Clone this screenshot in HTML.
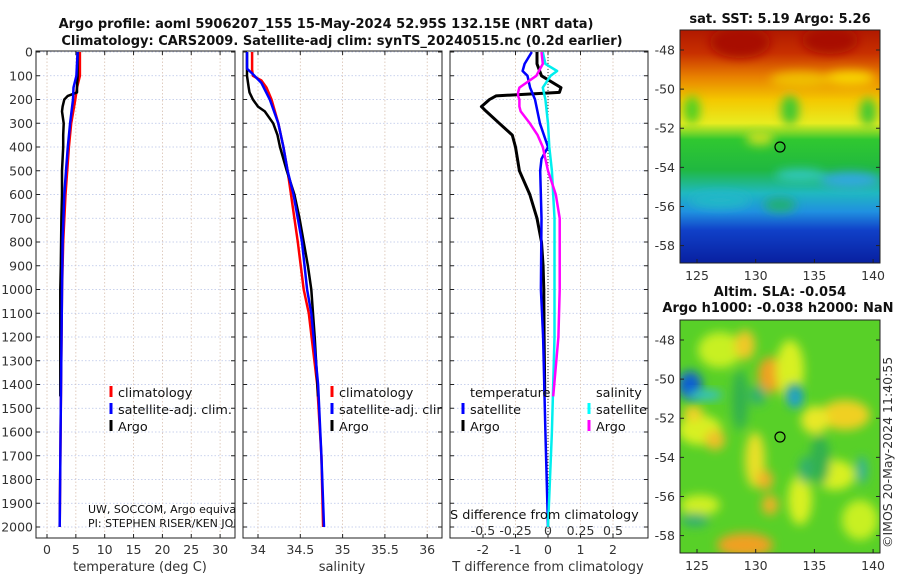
<!DOCTYPE html>
<html><head><meta charset="utf-8">
<style>
body{margin:0;background:#fff;}
svg{display:block;font-family:"DejaVu Sans","Liberation Sans",sans-serif;}
.tk{font-size:12.5px;fill:#333;}
.tt{font-size:13px;font-weight:bold;fill:#111;}
.lg{font-size:12.8px;fill:#111;}
</style></head><body>
<svg id="fig" width="900" height="580" viewBox="0 0 900 580">
<defs>
<clipPath id="c1"><rect x="36" y="51" width="199" height="487"/></clipPath>
<clipPath id="c2"><rect x="243" y="51" width="199" height="487"/></clipPath>
<clipPath id="c3"><rect x="450" y="51" width="198" height="487"/></clipPath>
<clipPath id="cm1"><rect x="680" y="30" width="200" height="233"/></clipPath>
<clipPath id="cm2"><rect x="680" y="320" width="200" height="233"/></clipPath>
<linearGradient id="sstg" x1="0" y1="0" x2="0" y2="1">
<stop offset="0" stop-color="#b01800"/><stop offset="0.1" stop-color="#c83000"/>
<stop offset="0.2" stop-color="#e88000"/><stop offset="0.3" stop-color="#f4c800"/>
<stop offset="0.4" stop-color="#e8ec20"/><stop offset="0.47" stop-color="#30c830"/>
<stop offset="0.6" stop-color="#20b840"/><stop offset="0.7" stop-color="#20b8c0"/>
<stop offset="0.78" stop-color="#2090e0"/><stop offset="0.86" stop-color="#1040c8"/>
<stop offset="1" stop-color="#0820a0"/></linearGradient>
<filter id="bl" x="-50%" y="-50%" width="200%" height="200%"><feGaussianBlur stdDeviation="5"/></filter>
</defs>
<text class="tt" x="326" y="28" text-anchor="middle">Argo profile: aoml 5906207_155 15-May-2024 52.95S 132.15E (NRT data)</text>
<text class="tt" x="342" y="45" text-anchor="middle">Climatology: CARS2009. Satellite-adj clim: synTS_20240515.nc (0.2d earlier)</text>
<g id="axes"></g>
<g id="lines"></g>

<g>
<text class="tt" x="780" y="23" text-anchor="middle">sat. SST: 5.19 Argo: 5.26</text>
<g clip-path="url(#cm1)">
<rect x="680" y="30" width="200" height="233" fill="url(#sstg)"/>
<g filter="url(#bl)">
<ellipse cx="740" cy="42" rx="30" ry="16" fill="#a81000"/><ellipse cx="830" cy="40" rx="28" ry="14" fill="#a81000"/>
<ellipse cx="800" cy="80" rx="30" ry="8" fill="#f0c000"/><ellipse cx="850" cy="78" rx="25" ry="7" fill="#f8d800"/>
<ellipse cx="692" cy="110" rx="8" ry="14" fill="#50d020"/><ellipse cx="790" cy="110" rx="9" ry="15" fill="#40c830"/>
<ellipse cx="868" cy="112" rx="8" ry="14" fill="#40c830"/><ellipse cx="760" cy="138" rx="14" ry="7" fill="#c8e020"/>
<ellipse cx="850" cy="180" rx="30" ry="8" fill="#30a8e0"/><ellipse cx="800" cy="175" rx="25" ry="6" fill="#30c8c0"/>
<ellipse cx="780" cy="205" rx="16" ry="7" fill="#20b070"/><ellipse cx="720" cy="200" rx="30" ry="8" fill="#20b8c8"/>
</g></g>
<rect x="680" y="30" width="200" height="233" fill="none" stroke="#222" stroke-width="1"/>
<circle cx="780" cy="147" r="5" fill="none" stroke="#000" stroke-width="1.2"/>
<g id="map1ticks"></g>
</g>

<g>
<text class="tt" x="780" y="296" text-anchor="middle">Altim. SLA: -0.054</text>
<text class="tt" x="778" y="312" text-anchor="middle">Argo h1000: -0.038 h2000: NaN</text>
<g clip-path="url(#cm2)">
<rect x="680" y="320" width="200" height="233" fill="#58d028"/>
<g filter="url(#bl)">
<ellipse cx="720" cy="350" rx="22" ry="18" fill="#c8f020"/><ellipse cx="745" cy="345" rx="10" ry="15" fill="#f0c828"/>
<ellipse cx="770" cy="375" rx="12" ry="18" fill="#f0a020"/><ellipse cx="790" cy="370" rx="14" ry="30" fill="#d8f020"/>
<ellipse cx="845" cy="415" rx="25" ry="15" fill="#f0d020"/><ellipse cx="815" cy="420" rx="14" ry="14" fill="#e8e828"/>
<ellipse cx="700" cy="430" rx="22" ry="15" fill="#d8f020"/><ellipse cx="715" cy="440" rx="10" ry="10" fill="#f0c028"/>
<ellipse cx="755" cy="460" rx="10" ry="28" fill="#e8e028"/><ellipse cx="765" cy="480" rx="8" ry="10" fill="#f0b028"/>
<ellipse cx="770" cy="505" rx="8" ry="10" fill="#f0b028"/><ellipse cx="745" cy="545" rx="28" ry="12" fill="#f0a020"/>
<ellipse cx="835" cy="475" rx="20" ry="15" fill="#d8f020"/><ellipse cx="700" cy="505" rx="20" ry="10" fill="#d0f020"/>
<ellipse cx="800" cy="500" rx="12" ry="25" fill="#d8f020"/><ellipse cx="860" cy="520" rx="18" ry="20" fill="#c8f020"/>
<ellipse cx="693" cy="413" rx="10" ry="8" fill="#f0d028"/>
<ellipse cx="740" cy="400" rx="8" ry="30" fill="#30b050"/><ellipse cx="820" cy="460" rx="10" ry="25" fill="#30b050"/>
<ellipse cx="794" cy="393" rx="8" ry="10" fill="#20a880"/><ellipse cx="758" cy="395" rx="8" ry="10" fill="#30b070"/>
<ellipse cx="805" cy="470" rx="6" ry="14" fill="#30b070"/><ellipse cx="862" cy="470" rx="5" ry="14" fill="#30b0a0"/>
<ellipse cx="695" cy="520" rx="14" ry="7" fill="#30b070"/>
</g>
<ellipse cx="795" cy="398" rx="7" ry="10" fill="#20a0d0" filter="url(#bl)"/>
<ellipse cx="690" cy="385" rx="12" ry="14" fill="#1060d0" filter="url(#bl)"/>
<ellipse cx="705" cy="395" rx="18" ry="5" fill="#30c0d0" filter="url(#bl)"/>
</g>
<rect x="680" y="320" width="200" height="233" fill="none" stroke="#222" stroke-width="1"/>
<circle cx="780" cy="437" r="5" fill="none" stroke="#000" stroke-width="1.2"/>
<g id="map2ticks"></g>
<text class="tk" transform="translate(892,548) rotate(-90)">©IMOS 20-May-2024 11:40:55</text>
</g>

<g>
<line x1="111" y1="386" x2="111" y2="397" stroke="#f00" stroke-width="3"/><text class="lg" x="118" y="397">climatology</text>
<line x1="111" y1="403" x2="111" y2="414" stroke="#00f" stroke-width="3"/><text class="lg" x="118" y="414">satellite-adj. clim.</text>
<line x1="111" y1="420" x2="111" y2="431" stroke="#000" stroke-width="3"/><text class="lg" x="118" y="431">Argo</text>
</g>
<g clip-path="url(#c2)">
<line x1="332" y1="386" x2="332" y2="397" stroke="#f00" stroke-width="3"/><text class="lg" x="339" y="397">climatology</text>
<line x1="332" y1="403" x2="332" y2="414" stroke="#00f" stroke-width="3"/><text class="lg" x="339" y="414">satellite-adj. clim.</text>
<line x1="332" y1="420" x2="332" y2="431" stroke="#000" stroke-width="3"/><text class="lg" x="339" y="431">Argo</text>
</g>
<g>
<text class="lg" x="470" y="397">temperature</text><text class="lg" x="596" y="397">salinity</text>
<line x1="463" y1="403" x2="463" y2="414" stroke="#00f" stroke-width="3"/><text class="lg" x="470" y="414">satellite</text>
<line x1="463" y1="420" x2="463" y2="431" stroke="#000" stroke-width="3"/><text class="lg" x="470" y="431">Argo</text>
<line x1="589" y1="403" x2="589" y2="414" stroke="#0ff" stroke-width="3"/><text class="lg" x="596" y="414" clip-path="url(#c3)">satellite</text>
<line x1="589" y1="420" x2="589" y2="431" stroke="#f0f" stroke-width="3"/><text class="lg" x="596" y="431">Argo</text>
</g>
<g clip-path="url(#c1)">
<text x="88" y="513" style="font-size:11px;fill:#111">UW, SOCCOM, Argo equivalent</text>
<text x="88" y="527" style="font-size:11px;fill:#111">PI: STEPHEN RISER/KEN JOHNSON</text>
</g>
<text class="lg" x="450" y="519">S difference from climatology</text>
<text class="tk" x="140" y="571" text-anchor="middle" style="font-size:13px">temperature (deg C)</text>
<text class="tk" x="342" y="571" text-anchor="middle" style="font-size:13px">salinity</text>
<text class="tk" x="548" y="571" text-anchor="middle" style="font-size:13px">T difference from climatology</text>
</svg>
<script>
const depthTicks = [0,100,200,300,400,500,600,700,800,900,1000,1100,1200,1300,1400,1500,1600,1700,1800,1900,2000];
const tempTicks = [0,5,10,15,20,25,30];
const salTicks = [34,34.5,35,35.5,36];
const tdiffTicks = [-2,-1,0,1,2];
const sdiffTicks = [-0.5,-0.25,0,0.25,0.5];
const sdiffLabels = ["-0.5","-0.25","0","0.25","0.5"];
const lonTicks = [125,130,135,140];
const latTicks = [-48,-50,-52,-54,-56,-58];

const climDepth = [0,50,100,150,200,300,400,500,600,800,1000,1500,2000];
const climTemp = [5.7,5.7,5.7,5.2,4.9,4.2,3.8,3.5,3.2,2.8,2.6,2.4,2.2];
const satTemp  = [5.3,5.2,5.1,4.6,4.5,4.0,3.6,3.3,3.0,2.7,2.6,2.4,2.2];
const climSalDepth = [0,75,100,120,150,200,300,400,500,600,700,800,1000,1100,1400,1700,2000];
const climSal = [33.93,33.93,33.94,34.04,34.1,34.16,34.24,34.3,34.35,34.39,34.43,34.47,34.54,34.6,34.7,34.75,34.77];
const satSalDepth = [0,70,90,130,200,300,400,500,600,700,800,1000,1100,1400,1700,2000];
const satSal = [33.87,33.87,33.93,34.04,34.14,34.24,34.3,34.35,34.42,34.47,34.52,34.58,34.63,34.71,34.75,34.78];

const argoDepth = [0,50,100,150,170,185,200,230,250,300,350,400,500,600,700,800,900,1000,1200,1450];
const argoTemp = [5.3,5.3,5.3,5.2,5.2,3.6,3.0,2.7,2.6,2.9,2.8,2.8,2.6,2.6,2.5,2.45,2.4,2.3,2.3,2.3];
const argoSal = [33.87,33.87,33.87,33.89,33.9,33.92,33.94,34.0,34.08,34.18,34.23,34.26,34.34,34.43,34.49,34.54,34.59,34.63,34.67,34.71];
const argoTdiff = [-0.34,-0.34,-0.2,0.4,0.35,-1.6,-1.8,-2.05,-1.9,-1.5,-1.1,-1.0,-0.88,-0.56,-0.34,-0.2,-0.15,-0.13,-0.12,-0.1];
const argoSdiff = [-0.05,-0.04,-0.09,-0.22,-0.23,-0.23,-0.22,-0.22,-0.21,-0.14,-0.08,-0.04,0.0,0.06,0.09,0.09,0.09,0.09,0.08,0.04];

const satDiffDepth = [0,50,80,100,150,200,300,400,450,500,700,1000,1200,1600,2000];
const satTdiff = [-0.5,-0.72,-0.78,-0.63,-0.55,-0.4,-0.25,0.0,-0.2,-0.24,-0.2,-0.22,-0.15,-0.08,0.0];
const satSdiff = [-0.04,-0.02,0.07,0.02,-0.04,-0.02,0.0,0.01,0.02,0.03,0.05,0.05,0.05,0.03,0.0];

const NS='http://www.w3.org/2000/svg';
function yD(d){return 52+d*0.2375;}
function xT(t){return 47+t*5.77;}
function xS(s){return 258+(s-34)*84.6;}
function xTd(v){return 548+v*32.5;}
function xSd(v){return 548+v*130;}
function mk(tag,attrs,parent){const e=document.createElementNS(NS,tag);for(const k in attrs)e.setAttribute(k,attrs[k]);parent.appendChild(e);return e;}
const axes=document.getElementById('axes'), lines=document.getElementById('lines');

const panels=[{x:36,w:199,name:'temperature'},{x:243,w:199,name:'salinity'},{x:450,w:198,name:'difference'}];
panels.forEach((p,i)=>{
  const g=mk('g',{},axes);
  
  
  depthTicks.forEach(d=>{
    mk('line',{x1:p.x,x2:p.x+p.w,y1:yD(d),y2:yD(d),stroke:'#b8c4e8','stroke-width':0.8,'stroke-dasharray':'1.5,2'},g);
    mk('line',{x1:p.x,x2:p.x+4,y1:yD(d),y2:yD(d),stroke:'#222'},g);
    mk('line',{x1:p.x+p.w-4,x2:p.x+p.w,y1:yD(d),y2:yD(d),stroke:'#222'},g);
  });
  let xs=[];
  if(i==0) xs=tempTicks.map(xT);
  if(i==1) xs=salTicks.map(xS);
  if(i==2) xs=tdiffTicks.map(xTd);
  xs.forEach(x=>{
    mk('line',{x1:x,x2:x,y1:51,y2:538,stroke:'#d8c0b0','stroke-width':0.8,'stroke-dasharray':'1.5,2'},g);
    mk('line',{x1:x,x2:x,y1:534,y2:538,stroke:'#222'},g);
    mk('line',{x1:x,x2:x,y1:51,y2:55,stroke:'#222'},g);
  });
  mk('rect',{x:p.x,y:51,width:p.w,height:487,fill:'none',stroke:'#222','stroke-width':1},g);
});
depthTicks.forEach(d=>{
  const t=mk('text',{x:33,y:yD(d)+4.5,'text-anchor':'end',class:'tk'},axes);
  t.textContent=d;
  
  
});
tempTicks.forEach(v=>{const t=mk('text',{x:xT(v),y:554,'text-anchor':'middle',class:'tk'},axes);t.textContent=v;
  
  });
salTicks.forEach(v=>{const t=mk('text',{x:xS(v),y:554,'text-anchor':'middle',class:'tk'},axes);t.textContent=v;
  
  });
tdiffTicks.forEach(v=>{const t=mk('text',{x:xTd(v),y:554,'text-anchor':'middle',class:'tk'},axes);t.textContent=v===0?'0':v;
  
  });
sdiffTicks.forEach((v,i)=>{const t=mk('text',{x:xSd(v),y:535,'text-anchor':'middle',class:'tk'},axes);t.textContent=sdiffLabels[i];
  
  });
mk('line',{x1:548,x2:548,y1:51,y2:538,stroke:'#333','stroke-width':1,'stroke-dasharray':'1,2'},axes);

function series(xs,ds,fx,color,clip,name,w){
  const pts=xs.map((v,i)=>fx(v).toFixed(1)+','+yD(ds[i]).toFixed(1)).join(' ');
  const e=mk('polyline',{points:pts,fill:'none',stroke:color,'stroke-width':w||2.5,'stroke-linejoin':'round','clip-path':'url(#'+clip+')'},lines);
  
  
}
series(climTemp,climDepth,xT,'#f00','c1','temp-climatology-line');
series(argoTemp,argoDepth,xT,'#000','c1','temp-argo-line');
series(satTemp,climDepth,xT,'#00f','c1','temp-satellite-line');
series(climSal,climSalDepth,xS,'#f00','c2','sal-climatology-line');
series(argoSal,argoDepth,xS,'#000','c2','sal-argo-line');
series(satSal,satSalDepth,xS,'#00f','c2','sal-satellite-line');
series(argoTdiff,argoDepth,xTd,'#000','c3','tdiff-argo-line',3);
series(satTdiff,satDiffDepth,xTd,'#00f','c3','tdiff-satellite-line');
series(satSdiff,satDiffDepth,xSd,'#0ee','c3','sdiff-satellite-line');
series(argoSdiff,argoDepth,xSd,'#f0f','c3','sdiff-argo-line');

function mapTicks(gid,top){
  const g=document.getElementById(gid);
  lonTicks.forEach(l=>{const x=697+(l-125)*11.74;
    mk('line',{x1:x,x2:x,y1:top+233,y2:top+229,stroke:'#222'},g);
    const t=mk('text',{x:x,y:top+250,'text-anchor':'middle',class:'tk'},g);t.textContent=l;
    
    });
  latTicks.forEach(l=>{const y=top+20+(-48-l)*19.56;
    mk('line',{x1:680,x2:684,y1:y,y2:y,stroke:'#222'},g);
    mk('line',{x1:876,x2:880,y1:y,y2:y,stroke:'#222'},g);
    const t=mk('text',{x:675,y:y+4.5,'text-anchor':'end',class:'tk'},g);t.textContent=l;
    
    });
}
mapTicks('map1ticks',30);
mapTicks('map2ticks',320);
</script>
</body></html>
